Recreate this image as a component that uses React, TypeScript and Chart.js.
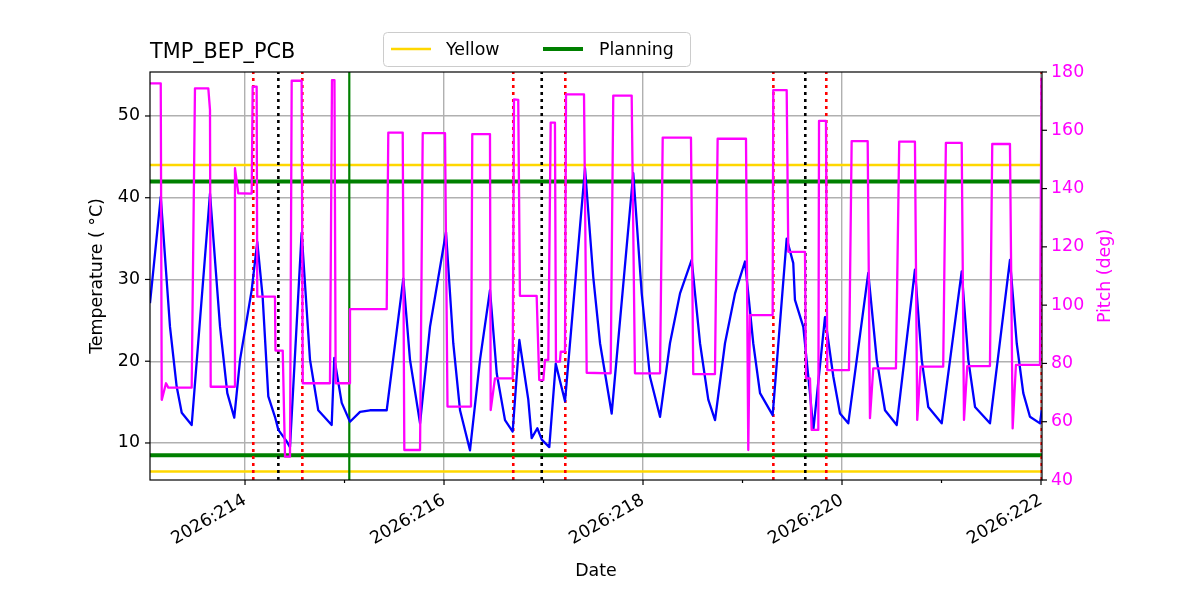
import React, { useEffect, useRef } from "react";
import { Chart, registerables } from "chart.js";

Chart.register(...registerables);

// ---- text ----
const titleText = "TMP_BEP_PCB";
const xAxisLabel = "Date";
const tempAxisLabel = "Temperature ( \u00B0C)";
const pitchAxisLabel = "Pitch (deg)";
const legendLabels = ["Yellow", "Planning"];

// ---- axis ranges ----
const xRange = [213.045, 222.01];
const tempRange = [5.47, 55.38];
const pitchRange = [40, 180];

// ---- ticks ----
const dayTicks = [214, 215, 216, 217, 218, 219, 220, 221, 222];
const majorTickDays = [214, 216, 218, 220, 222];
const majorTickLabels = ["2026:214", "2026:216", "2026:218", "2026:220", "2026:222"];
const tempTicks = [10, 20, 30, 40, 50];
const pitchTicks = [40, 60, 80, 100, 120, 140, 160, 180];

// ---- temperature series (day of year, deg C) ----
const tempDays = [
  213.045, 213.153, 213.246, 213.313, 213.364, 213.464, 213.648, 213.749, 213.822, 213.892,
  213.95, 214.067, 214.123, 214.177, 214.234, 214.301, 214.335, 214.419, 214.452, 214.569,
  214.653, 214.736, 214.871, 214.897, 214.972, 215.055, 215.156, 215.256, 215.424, 215.591,
  215.658, 215.759, 215.859, 216.02, 216.093, 216.161, 216.261, 216.362, 216.462, 216.53,
  216.613, 216.69, 216.757, 216.847, 216.881, 216.938, 216.982, 217.058, 217.123, 217.216,
  217.417, 217.5, 217.568, 217.685, 217.902, 217.987, 218.07, 218.171, 218.271, 218.372,
  218.489, 218.573, 218.656, 218.724, 218.824, 218.925, 219.025, 219.108, 219.176, 219.303,
  219.444, 219.51, 219.527, 219.611, 219.678, 219.712, 219.829, 219.913, 219.98, 220.063,
  220.264, 220.349, 220.432, 220.55, 220.733, 220.801, 220.867, 221.002, 221.203, 221.269,
  221.337, 221.487, 221.688, 221.756, 221.822, 221.889, 221.99, 222.007,
];
const tempValues = [
  27.1, 40.1, 24.2, 16.9, 13.7, 12.2, 40.5, 24.2, 16.1, 13.1,
  20.2, 28.7, 34.6, 27.9, 15.7, 13.2, 11.6, 10.2, 9.5, 35.7,
  20.2, 14.0, 12.2, 20.4, 14.9, 12.6, 13.8, 14.0, 14.0, 30.1,
  20.2, 12.4, 24.2, 35.8, 22.2, 14.0, 9.1, 20.2, 28.7, 18.5,
  12.8, 11.4, 22.6, 15.3, 10.6, 11.8, 10.4, 9.5, 19.7, 15.1,
  43.6, 30.3, 22.2, 13.6, 43.0, 28.3, 18.1, 13.2, 22.2, 28.3,
  32.4, 22.2, 15.3, 12.8, 22.2, 28.3, 32.2, 22.2, 16.1, 13.4,
  35.0, 32.0, 27.5, 24.2, 16.1, 11.6, 25.4, 18.1, 13.6, 12.4,
  30.8, 20.2, 14.0, 12.2, 31.2, 20.2, 14.4, 12.4, 31.0, 20.2,
  14.4, 12.4, 32.4, 22.2, 16.1, 13.2, 12.4, 14.0,
];

// ---- pitch series (day of year, deg) ----
const pitchDays = [
  213.045, 213.153, 213.163, 213.206, 213.229, 213.464, 213.497, 213.631, 213.648, 213.655,
  213.892, 213.899, 213.932, 214.067, 214.077, 214.117, 214.123, 214.301, 214.306, 214.379,
  214.402, 214.452, 214.469, 214.569, 214.58, 214.854, 214.874, 214.899, 214.911, 215.048,
  215.055, 215.424, 215.44, 215.585, 215.601, 215.759, 215.786, 216.01, 216.035, 216.271,
  216.284, 216.462, 216.469, 216.512, 216.69, 216.703, 216.746, 216.763, 216.931, 216.957,
  216.998, 217.015, 217.048, 217.072, 217.115, 217.125, 217.165, 217.173, 217.216, 217.226,
  217.407, 217.434, 217.675, 217.701, 217.886, 217.919, 218.171, 218.198, 218.482, 218.505,
  218.723, 218.75, 219.035, 219.058, 219.065, 219.075, 219.303, 219.309, 219.444, 219.46,
  219.628, 219.638, 219.678, 219.695, 219.762, 219.769, 219.839, 219.852, 220.07, 220.097,
  220.258, 220.281, 220.314, 220.542, 220.575, 220.733, 220.756, 220.79, 221.017, 221.044,
  221.203, 221.226, 221.259, 221.487, 221.51, 221.688, 221.715, 221.748, 221.99, 222.005,
];
const pitchValues = [
  176.1, 176.1, 67.5, 73.2, 71.7, 71.7, 174.4, 174.4, 167.0, 72.0,
  72.0, 147.0, 138.4, 138.3, 175.0, 175.0, 102.9, 102.9, 84.4, 84.4,
  48.0, 48.0, 177.0, 177.0, 73.2, 73.2, 177.2, 177.2, 73.2, 73.2,
  98.6, 98.6, 159.2, 159.2, 50.3, 50.3, 159.0, 159.0, 65.2, 65.2,
  158.7, 158.7, 64.0, 74.9, 74.9, 170.6, 170.4, 103.2, 103.2, 74.3,
  74.3, 81.2, 81.2, 162.6, 162.6, 80.6, 80.6, 84.0, 84.0, 172.3,
  172.3, 76.8, 76.6, 171.9, 171.9, 76.6, 76.6, 157.5, 157.5, 76.3,
  76.3, 157.1, 157.1, 50.3, 50.3, 96.6, 96.6, 173.8, 173.8, 118.3,
  118.3, 74.9, 74.9, 57.2, 57.2, 163.2, 163.2, 77.7, 77.7, 156.3,
  156.3, 61.2, 78.3, 78.3, 156.1, 156.1, 60.6, 78.9, 78.9, 155.7,
  155.7, 60.6, 79.1, 79.1, 155.3, 155.3, 57.7, 79.5, 79.5, 178.0,
];

// ---- limits and events ----
const yellowLimits = [6.5, 44];
const planningLimits = [8.5, 42];
const redEventDays = [214.083, 214.576, 216.696, 217.219, 219.31, 219.842, 222.007];
const blackEventDays = [214.335, 216.982, 219.631];
const greenEventDays = [215.048];

const FONT = '"DejaVu Sans", "Liberation Sans", sans-serif';
const TICK_SIZE = 17.4;
const TITLE_SIZE = 20.8;
const MAGENTA = "#ff00ff";
const YELLOW = "#ffd700";
const GREEN = "#008000";

const decorPlugin = {
  id: "decor",
  afterDraw(chart: any) {
    const { ctx, chartArea: a, scales } = chart;
    ctx.save();
    const seg = (x1: number, y1: number, x2: number, y2: number) => {
      ctx.beginPath();
      ctx.moveTo(x1, y1);
      ctx.lineTo(x2, y2);
      ctx.stroke();
    };
    // frame
    ctx.strokeStyle = "#000";
    ctx.lineWidth = 1.2;
    ctx.strokeRect(a.left, a.top, a.right - a.left, a.bottom - a.top);
    // tick marks
    const xs = scales.x;
    xs.ticks.forEach((t: any) => {
      const px = xs.getPixelForValue(t.value);
      const major = majorTickDays.includes(t.value);
      seg(px, a.bottom, px, a.bottom + (major ? 5 : 3));
    });
    scales.y.ticks.forEach((t: any) => {
      const py = scales.y.getPixelForValue(t.value);
      seg(a.left - 5, py, a.left, py);
    });
    scales.y1.ticks.forEach((t: any) => {
      const py = scales.y1.getPixelForValue(t.value);
      seg(a.right, py, a.right + 5, py);
    });
    // title
    ctx.fillStyle = "#000";
    ctx.font = `${TITLE_SIZE}px ${FONT}`;
    ctx.textAlign = "left";
    ctx.textBaseline = "alphabetic";
    ctx.fillText(titleText, a.left, a.top - 14);
    // axis labels
    ctx.font = `${TICK_SIZE}px ${FONT}`;
    ctx.textAlign = "center";
    ctx.textBaseline = "middle";
    ctx.fillText(xAxisLabel, (a.left + a.right) / 2, 571);
    const midY = (a.top + a.bottom) / 2;
    ctx.save();
    ctx.translate(97, midY);
    ctx.rotate(-Math.PI / 2);
    ctx.fillText(tempAxisLabel, 0, 0);
    ctx.restore();
    ctx.save();
    ctx.translate(1105, midY);
    ctx.rotate(-Math.PI / 2);
    ctx.fillStyle = MAGENTA;
    ctx.fillText(pitchAxisLabel, 0, 0);
    ctx.restore();
    // legend
    const lx = 383, ly = 32, lw = 307, lh = 34;
    ctx.beginPath();
    ctx.roundRect(lx + 0.5, ly + 0.5, lw, lh, 4);
    ctx.fillStyle = "rgba(255,255,255,0.8)";
    ctx.fill();
    ctx.strokeStyle = "#cccccc";
    ctx.lineWidth = 1;
    ctx.stroke();
    const cy = ly + lh / 2;
    const entries = [
      { x: 391, color: YELLOW, width: 2.5, tx: 446 },
      { x: 543, color: GREEN, width: 4, tx: 599 },
    ];
    entries.forEach((e, i) => {
      ctx.strokeStyle = e.color;
      ctx.lineWidth = e.width;
      seg(e.x, cy, e.x + 40, cy);
      ctx.fillStyle = "#000";
      ctx.textAlign = "left";
      ctx.textBaseline = "middle";
      ctx.fillText(legendLabels[i], e.tx, cy + 1);
    });
    ctx.restore();
  },
};

export default function App() {
  const ref = useRef<HTMLCanvasElement | null>(null);
  useEffect(() => {
    if (!ref.current) return;
    const hLine = (y: number, color: string, width: number) => ({
      data: [
        { x: xRange[0], y },
        { x: xRange[1], y },
      ],
      yAxisID: "y",
      borderColor: color,
      borderWidth: width,
      pointRadius: 0,
      order: 4,
    });
    const vLine = (x: number, color: string, dashed: boolean) => ({
      data: [
        { x, y: tempRange[0] },
        { x, y: tempRange[1] },
      ],
      yAxisID: "y",
      borderColor: color,
      borderWidth: dashed ? 2.6 : 2.2,
      borderDash: dashed ? [3, 4] : [],
      pointRadius: 0,
      order: 2,
    });
    const datasets: any[] = [
      ...yellowLimits.map((v) => hLine(v, YELLOW, 2.5)),
      ...planningLimits.map((v) => hLine(v, GREEN, 4)),
      ...redEventDays.map((d) => vLine(d, "#ff0000", true)),
      ...blackEventDays.map((d) => vLine(d, "#000000", true)),
      ...greenEventDays.map((d) => vLine(d, GREEN, false)),
      {
        data: tempDays.map((d, i) => ({ x: d, y: tempValues[i] })),
        yAxisID: "y",
        borderColor: "#0000ff",
        borderWidth: 2.3,
        pointRadius: 0,
        borderJoinStyle: "round",
        order: 1,
      },
      {
        data: pitchDays.map((d, i) => ({ x: d, y: pitchValues[i] })),
        yAxisID: "y1",
        borderColor: MAGENTA,
        borderWidth: 2.3,
        pointRadius: 0,
        borderJoinStyle: "round",
        order: 0,
      },
    ];
    const chart = new Chart(ref.current, {
      type: "line",
      data: { datasets },
      options: {
        animation: false,
        responsive: false,
        devicePixelRatio: 1,
        layout: { padding: { top: 72, left: 0, right: 0, bottom: 0 } },
        plugins: { legend: { display: false }, title: { display: false }, tooltip: { enabled: false } },
        elements: { line: { tension: 0 } },
        scales: {
          x: {
            type: "linear",
            min: xRange[0],
            max: xRange[1],
            bounds: "data",
            afterFit: (s: any) => {
              s.height = 120;
            },
            afterBuildTicks: (s: any) => {
              s.ticks = dayTicks.map((v) => ({ value: v }));
            },
            border: { display: false },
            grid: {
              drawTicks: false,
              lineWidth: 1.4,
              color: (c: any) =>
                c.tick && majorTickDays.includes(c.tick.value) ? "#b0b0b0" : "rgba(0,0,0,0)",
            },
            ticks: {
              autoSkip: false,
              minRotation: 30,
              maxRotation: 30,
              padding: 10,
              color: "#000",
              font: { family: FONT, size: TICK_SIZE },
              callback: (v: any) => {
                const i = majorTickDays.indexOf(Number(v));
                return i >= 0 ? majorTickLabels[i] : "";
              },
            },
          },
          y: {
            type: "linear",
            position: "left",
            min: tempRange[0],
            max: tempRange[1],
            bounds: "data",
            afterFit: (s: any) => {
              s.width = 150;
            },
            afterBuildTicks: (s: any) => {
              s.ticks = tempTicks.map((v) => ({ value: v }));
            },
            border: { display: false },
            grid: { drawTicks: false, color: "#b0b0b0", lineWidth: 1.4 },
            ticks: {
              padding: 10,
              color: "#000",
              font: { family: FONT, size: TICK_SIZE },
              callback: (v: any) => String(v),
            },
          },
          y1: {
            type: "linear",
            position: "right",
            min: pitchRange[0],
            max: pitchRange[1],
            bounds: "data",
            afterFit: (s: any) => {
              s.width = 158;
            },
            afterBuildTicks: (s: any) => {
              s.ticks = pitchTicks.map((v) => ({ value: v }));
            },
            border: { display: false },
            grid: { display: false, drawTicks: false },
            ticks: {
              padding: 9,
              color: MAGENTA,
              font: { family: FONT, size: TICK_SIZE },
              callback: (v: any) => String(v),
            },
          },
        },
      },
      plugins: [decorPlugin],
    } as any);
    return () => chart.destroy();
  }, []);
  return (
    <canvas
      ref={ref}
      width={1200}
      height={600}
      style={{ position: "absolute", left: 0, top: 0, width: 1200, height: 600 }}
    />
  );
}
